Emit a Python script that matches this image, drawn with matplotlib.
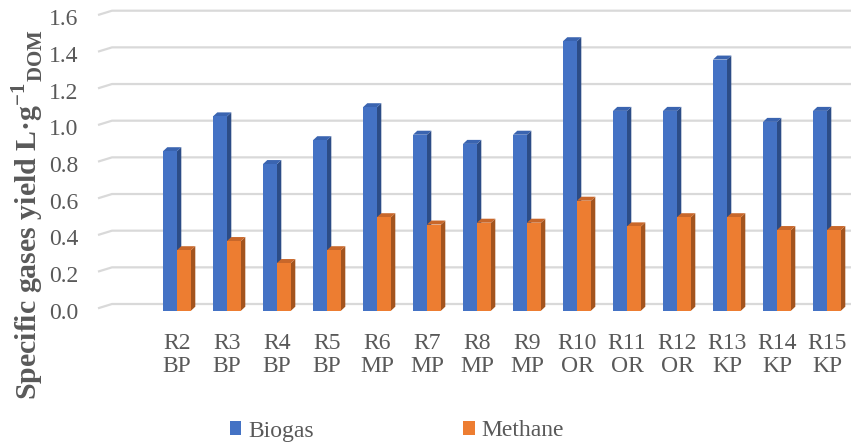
import matplotlib

matplotlib.use("Agg")
import matplotlib.pyplot as plt  # noqa: E402
from matplotlib.patches import Patch, Polygon  # noqa: E402

# values (first slot is an empty category)
categories = ["", "R2\nBP", "R3\nBP", "R4\nBP", "R5\nBP", "R6\nMP", "R7\nMP", "R8\nMP",
              "R9\nMP", "R10\nOR", "R11\nOR", "R12\nOR", "R13\nKP", "R14\nKP", "R15\nKP"]
biogas = [None, 0.87, 1.06, 0.80, 0.93, 1.11, 0.96, 0.91, 0.96, 1.47, 1.09, 1.09, 1.37, 1.03, 1.09]
methane = [None, 0.33, 0.38, 0.26, 0.33, 0.51, 0.47, 0.48, 0.48, 0.60, 0.46, 0.51, 0.51, 0.44, 0.44]
yticks = [0.0, 0.2, 0.4, 0.6, 0.8, 1.0, 1.2, 1.4, 1.6]

TXT = "#595959"
GRID = "#d9d9d9"
SERIES = [
    ("Biogas", biogas, "#4472c4", "#2c4c86", "#3a64b0"),
    ("Methane", methane, "#ed7d31", "#a3541e", "#c8672a"),
]

plt.rcParams["font.family"] = ["Liberation Serif", "DejaVu Serif"]
plt.rcParams["mathtext.fontset"] = "custom"
plt.rcParams["mathtext.rm"] = "Liberation Serif:bold"
plt.rcParams["mathtext.bf"] = "Liberation Serif:bold"

W, H = 851, 443
fig = plt.figure(figsize=(W / 100, H / 100), dpi=100)
ax = fig.add_axes([98 / W, (H - 310.7) / H, (W - 98) / W, 293.3 / H])
xl, xr = -0.58, 14.48
ax.set_xlim(xl, xr)
ax.set_ylim(0, 1.6)
for s in ax.spines.values():
    s.set_visible(False)

# pixel -> data helpers for the pseudo-3D depth
px_x = (xr - xl) / (W - 98)
px_y = 1.6 / 293.3

# back-wall gridlines with a slanted left end
for g in yticks:
    ax.plot([xl, xl + 14 * px_x, xr], [g + 2.4 * px_y, g + 6.7 * px_y, g + 6.7 * px_y],
            color=GRID, lw=1.6, zorder=1, clip_on=False, solid_capstyle="butt")

bw = 0.28
ddx, ddy = 4.3 * px_x, 4.0 * px_y
for k, (name, vals, front, side, top) in enumerate(SERIES):
    off = -bw / 2 if k == 0 else bw / 2
    for i, v in enumerate(vals):
        if v is None:
            continue
        x0 = i + off - bw / 2
        x1 = i + off + bw / 2
        z = 2 + k
        ax.add_patch(Polygon([(x1, 0), (x1 + ddx, ddy), (x1 + ddx, v + ddy), (x1, v)],
                             closed=True, fc=side, ec="none", zorder=z, clip_on=False))
        ax.add_patch(Polygon([(x0, v), (x0 + ddx, v + ddy), (x1 + ddx, v + ddy), (x1, v)],
                             closed=True, fc=top, ec="none", zorder=z, clip_on=False))
        ax.bar(i + off, v, width=bw, color=front, zorder=z + 0.5, clip_on=False)

ax.set_yticks(yticks)
ax.set_yticklabels([f"{t:.1f}" for t in yticks], fontsize=17, color=TXT)
ax.set_xticks(range(len(categories)))
ax.set_xticklabels(categories, fontsize=17, color=TXT, linespacing=1.15)
ax.tick_params(axis="y", length=0, pad=14)
ax.tick_params(axis="x", length=0, pad=16)

fig.text(28 / W, 1 - 215 / H, r"Specific gases yield L·g$^{\mathrm{-1}}$$_{\mathrm{DOM}}$",
         rotation=90, ha="center", va="center", fontsize=21.5, fontweight="bold", color=TXT)

handles = [Patch(fc=c, ec="none") for _, _, c, _, _ in SERIES]
fig.legend(handles, [s[0] for s in SERIES], loc="center", bbox_to_anchor=(397 / W, 1 - 431 / H),
           ncol=2, frameon=False, prop={"family": "Liberation Serif", "size": 17},
           handlelength=0.5, handleheight=0.5, handletextpad=0.3, columnspacing=6.3,
           labelcolor=TXT)

fig.savefig("out.png", dpi=100)
